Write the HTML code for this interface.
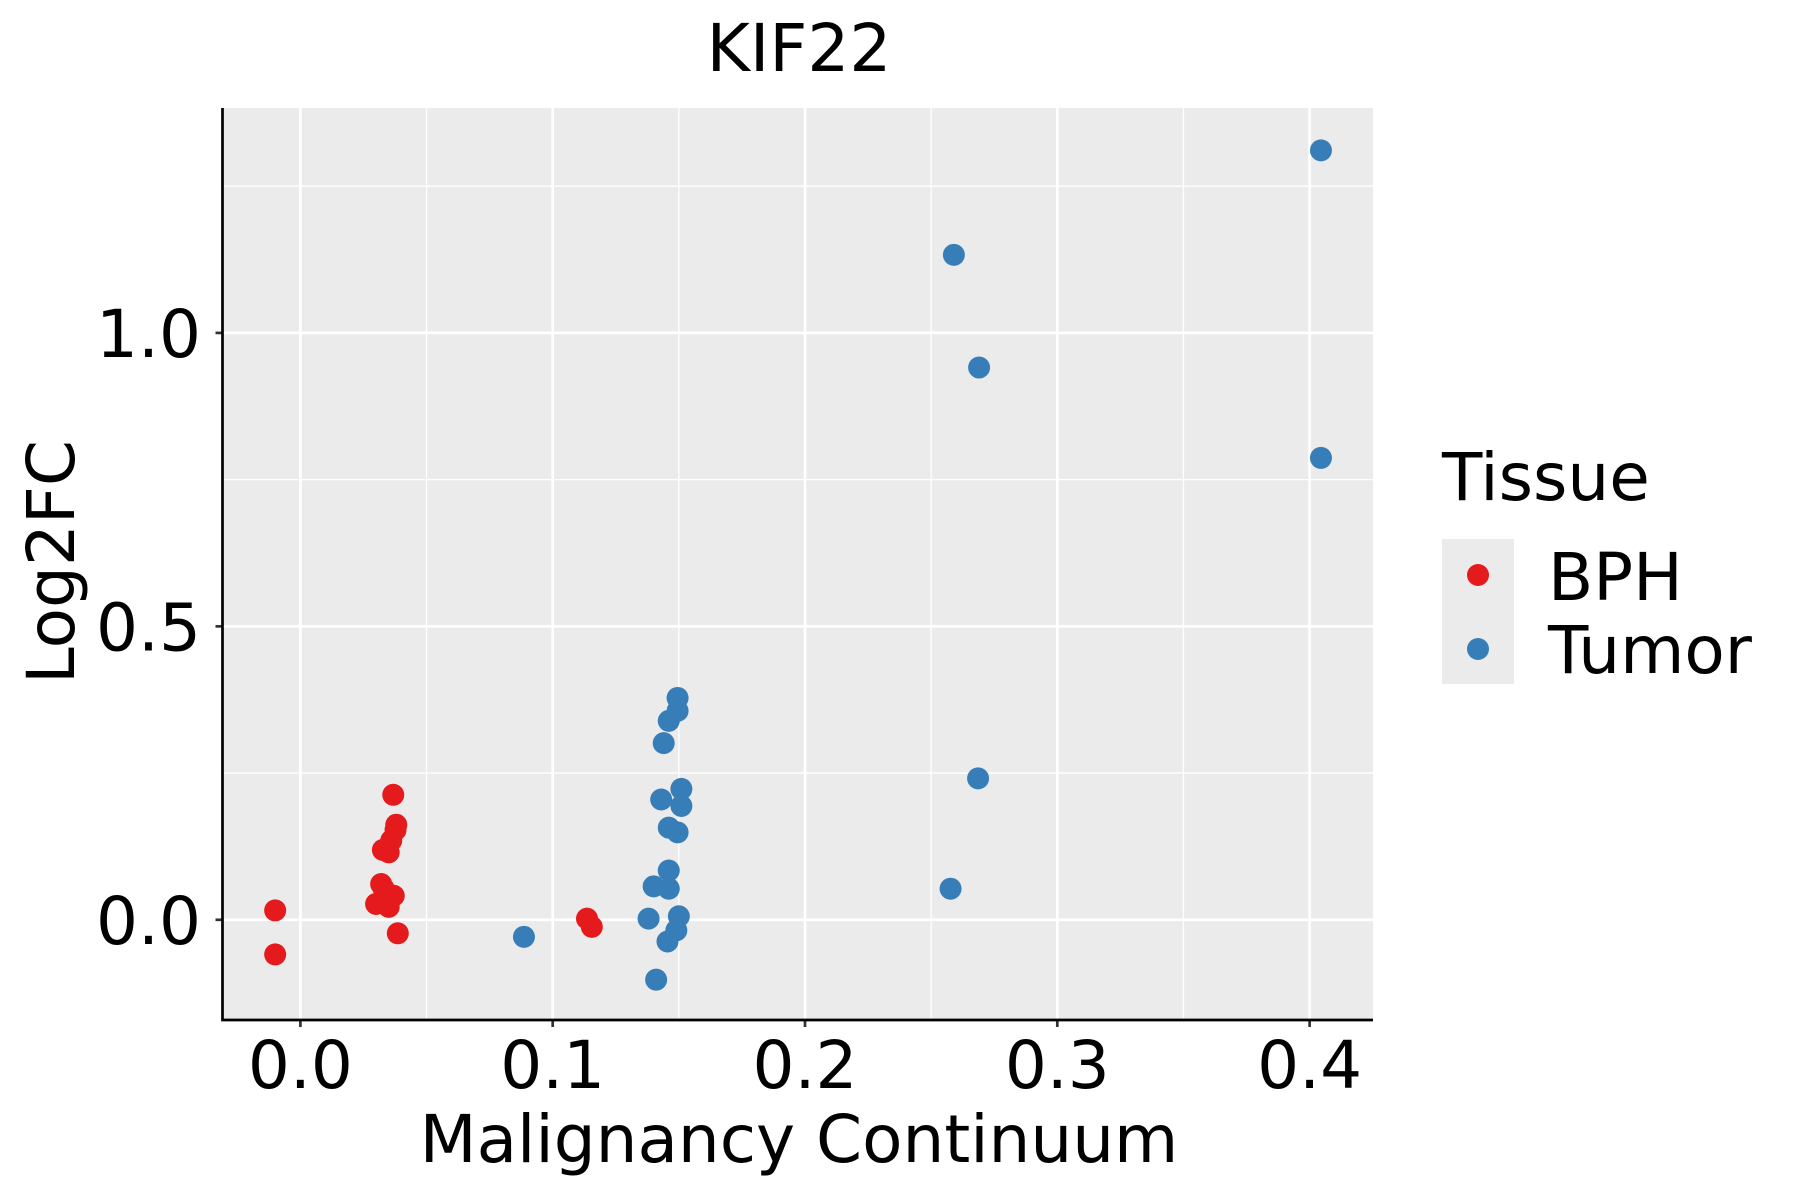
<!DOCTYPE html>
<html><head><meta charset="utf-8"><style>body{margin:0;background:#fff}svg{display:block}text{font-family:"DejaVu Sans","Liberation Sans",sans-serif}</style></head>
<body>
<svg id="chart" width="1800" height="1200" xmlns="http://www.w3.org/2000/svg">
<rect width="1800" height="1200" fill="#fff"/>
<text x="799" y="71" font-size="66" text-anchor="middle">KIF22</text>
<rect x="222.5" y="108" width="1150.5" height="912" fill="#ebebeb"/>
<g id="grid"></g><g id="pts"></g><g id="axes"></g>
<text x="799" y="1162" font-size="66" text-anchor="middle">Malignancy Continuum</text>
<text transform="translate(74,562) rotate(-90)" font-size="66" text-anchor="middle">Log2FC</text>
<g>
<text x="1442" y="500" font-size="66">Tissue</text>
<rect x="1442" y="539" width="72" height="145" fill="#ebebeb"/>
<circle cx="1478" cy="575" r="11" fill="#E41A1C"/>
<circle cx="1478" cy="649" r="11" fill="#377EB8"/>
<text x="1548" y="600" font-size="66">BPH</text>
<text x="1548" y="673" font-size="66">Tumor</text>
</g>
</svg>
<script>
const xTicks=[0,0.1,0.2,0.3,0.4];
const xTickLabels=["0.0","0.1","0.2","0.3","0.4"];
const yTicks=[0,0.5,1.0];
const yTickLabels=["0.0","0.5","1.0"];
const xMinor=[0.05,0.15,0.25,0.35];
const yMinor=[0.25,0.75,1.25];
const bphX=[-0.010,-0.010,0.0368,0.038,0.0377,0.036,0.0327,0.035,0.032,0.033,0.037,0.030,0.035,0.0386,0.1136,0.1155];
const bphY=[0.016,-0.059,0.213,0.162,0.153,0.135,0.119,0.115,0.061,0.053,0.041,0.027,0.022,-0.023,0.002,-0.012];
const tumorX=[0.0886,0.1495,0.1495,0.146,0.144,0.151,0.143,0.151,0.146,0.1495,0.146,0.140,0.146,0.138,0.150,0.149,0.1455,0.141,0.2577,0.2686,0.259,0.269,0.4045,0.4045];
const tumorY=[-0.029,0.378,0.356,0.339,0.301,0.223,0.205,0.194,0.157,0.149,0.084,0.057,0.053,0.002,0.006,-0.018,-0.037,-0.102,0.053,0.241,1.133,0.941,1.311,0.787];
const L=222.5,R=1373,T=108,B=1020;
const sx=v=>300.4+v*2523;
const sy=v=>919.8-v*586.9;
const NS="http://www.w3.org/2000/svg";
function mk(parent,tag,attrs){const e=document.createElementNS(NS,tag);for(const k in attrs)e.setAttribute(k,attrs[k]);parent.appendChild(e);return e;}
const grid=document.getElementById('grid'),pts=document.getElementById('pts'),axes=document.getElementById('axes');
xMinor.forEach(v=>{const l=mk(grid,'line',{x1:sx(v),x2:sx(v),y1:T,y2:B,stroke:'#fff','stroke-width':1.3});

});
yMinor.forEach(v=>{const l=mk(grid,'line',{x1:L,x2:R,y1:sy(v),y2:sy(v),stroke:'#fff','stroke-width':1.3});

});
xTicks.forEach((v,i)=>{const l=mk(grid,'line',{x1:sx(v),x2:sx(v),y1:T,y2:B,stroke:'#fff','stroke-width':2.7});


const t=mk(axes,'line',{x1:sx(v),x2:sx(v),y1:B,y2:B+7,stroke:'#333','stroke-width':2.7});


const tx=mk(axes,'text',{x:sx(v),y:1088,'font-size':66,'text-anchor':'middle',fill:'#000'});tx.textContent=xTickLabels[i];

});
yTicks.forEach((v,i)=>{const l=mk(grid,'line',{x1:L,x2:R,y1:sy(v),y2:sy(v),stroke:'#fff','stroke-width':2.7});


const t=mk(axes,'line',{x1:L-7,x2:L,y1:sy(v),y2:sy(v),stroke:'#333','stroke-width':2.7});


const tx=mk(axes,'text',{x:201,y:sy(v)+24,'font-size':66,'text-anchor':'end',fill:'#000'});tx.textContent=yTickLabels[i];

});
const ax=mk(axes,'path',{d:`M${L},${T} V${B} H${R}`,fill:'none',stroke:'#000','stroke-width':2.7});


bphX.forEach((x,i)=>{const c=mk(pts,'circle',{cx:sx(x),cy:sy(bphY[i]),r:11,fill:'#E41A1C'});

});
tumorX.forEach((x,i)=>{const c=mk(pts,'circle',{cx:sx(x),cy:sy(tumorY[i]),r:11,fill:'#377EB8'});

});
</script>
</body></html>
